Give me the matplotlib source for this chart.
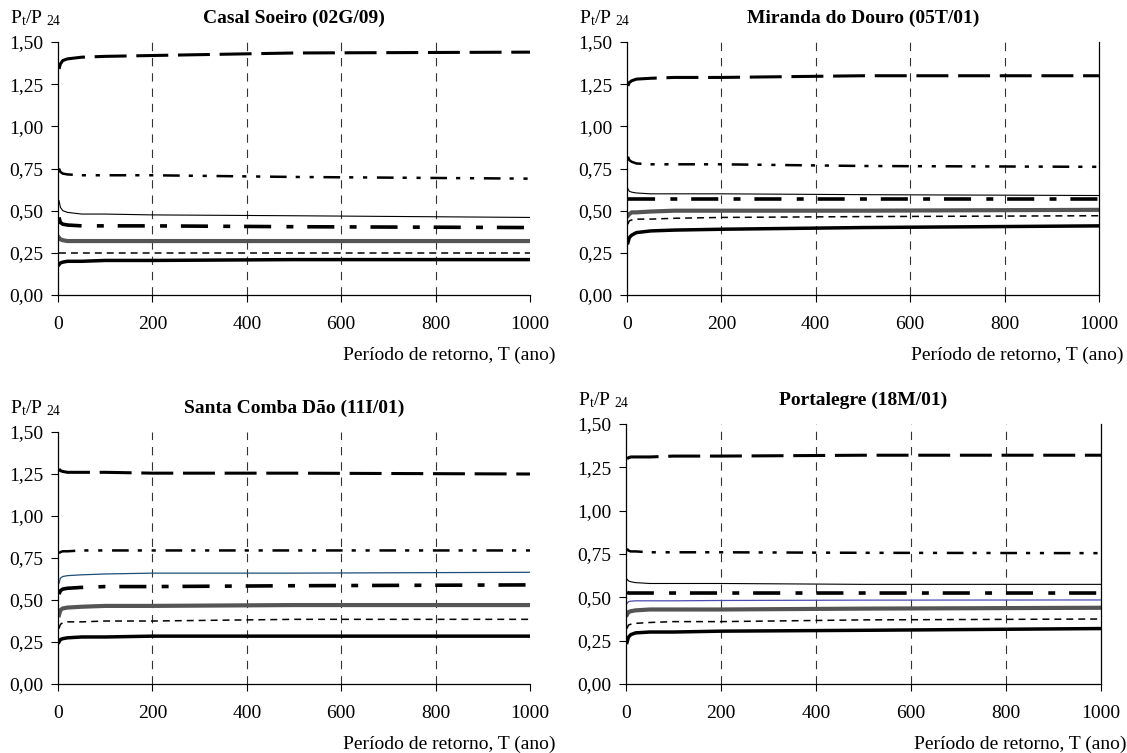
import numpy as np
import matplotlib.pyplot as plt

plt.rcParams['font.family'] = ['Liberation Serif', 'DejaVu Serif']
plt.rcParams['font.size'] = 14
plt.rcParams['lines.scale_dashes'] = False

# return periods (years)
T = [2, 5, 10, 20, 50, 100, 200, 500, 1000]

# Casal Soeiro (02G/09)
cs_longdash = [1.34, 1.37, 1.39, 1.40, 1.41, 1.415, 1.42, 1.435, 1.44]
cs_dashdotdot = [0.75, 0.73, 0.72, 0.715, 0.71, 0.71, 0.71, 0.70, 0.69]
cs_thin = [0.56, 0.52, 0.50, 0.49, 0.48, 0.48, 0.475, 0.47, 0.46]
cs_dashdot = [0.46, 0.43, 0.42, 0.415, 0.41, 0.41, 0.41, 0.405, 0.40]
cs_gray = [0.34, 0.33, 0.325, 0.32, 0.32, 0.32, 0.32, 0.32, 0.32]
cs_dashed = [0.25, 0.25, 0.25, 0.25, 0.25, 0.25, 0.25, 0.25, 0.25]
cs_black = [0.18, 0.19, 0.195, 0.20, 0.20, 0.205, 0.205, 0.21, 0.21]

# Miranda do Douro (05T/01)
md_longdash = [1.24, 1.26, 1.27, 1.28, 1.285, 1.29, 1.29, 1.30, 1.30]
md_dashdotdot = [0.82, 0.80, 0.79, 0.78, 0.775, 0.775, 0.775, 0.765, 0.76]
md_thin = [0.63, 0.615, 0.61, 0.605, 0.60, 0.60, 0.60, 0.595, 0.59]
md_dashdot = [0.57, 0.57, 0.57, 0.57, 0.57, 0.57, 0.57, 0.57, 0.57]
md_gray = [0.47, 0.48, 0.49, 0.49, 0.495, 0.50, 0.50, 0.50, 0.505]
md_dashed = [0.42, 0.44, 0.445, 0.45, 0.45, 0.455, 0.46, 0.465, 0.47]
md_black = [0.31, 0.34, 0.355, 0.37, 0.38, 0.385, 0.39, 0.40, 0.41]

# Santa Comba Dão (11I/01)
sc_longdash = [1.28, 1.27, 1.265, 1.26, 1.26, 1.26, 1.255, 1.255, 1.25]
sc_dashdotdot = [0.78, 0.785, 0.79, 0.79, 0.795, 0.795, 0.795, 0.795, 0.795]
sc_blue = [0.60, 0.63, 0.64, 0.645, 0.65, 0.655, 0.66, 0.66, 0.665]
sc_dashdot = [0.535, 0.555, 0.565, 0.57, 0.575, 0.58, 0.58, 0.585, 0.59]
sc_gray = [0.41, 0.44, 0.45, 0.455, 0.46, 0.465, 0.465, 0.47, 0.47]
sc_dashed = [0.33, 0.355, 0.365, 0.37, 0.37, 0.375, 0.375, 0.385, 0.385]
sc_black = [0.25, 0.265, 0.27, 0.275, 0.28, 0.28, 0.285, 0.285, 0.285]

# Portalegre (18M/01)
pa_longdash = [1.30, 1.305, 1.31, 1.31, 1.31, 1.315, 1.315, 1.32, 1.32]
pa_dashdotdot = [0.78, 0.77, 0.765, 0.765, 0.76, 0.76, 0.76, 0.757, 0.755]
pa_thin = [0.605, 0.595, 0.59, 0.585, 0.58, 0.58, 0.58, 0.575, 0.575]
pa_dashdot = [0.53, 0.525, 0.525, 0.525, 0.525, 0.525, 0.525, 0.525, 0.525]
pa_blue = [0.465, 0.475, 0.478, 0.48, 0.48, 0.48, 0.482, 0.484, 0.485]
pa_gray = [0.40, 0.415, 0.42, 0.425, 0.43, 0.43, 0.43, 0.435, 0.44]
pa_dashed = [0.32, 0.34, 0.345, 0.35, 0.355, 0.36, 0.36, 0.37, 0.375]
pa_black = [0.24, 0.27, 0.285, 0.295, 0.30, 0.30, 0.305, 0.31, 0.32]

titles = ['Casal Soeiro (02G/09)', 'Miranda do Douro (05T/01)',
          'Santa Comba Dão (11I/01)', 'Portalegre (18M/01)']
xticks = [0, 200, 400, 600, 800, 1000]
yticks = [0.0, 0.25, 0.5, 0.75, 1.0, 1.25, 1.5]
yticklabels = ['0,00', '0,25', '0,50', '0,75', '1,00', '1,25', '1,50']

# line styles
st = {
    'longdash': dict(color='black', lw=2.2, dashes=(23, 7)),
    'dashdotdot': dict(color='black', lw=1.8, dashes=(12, 6.5, 3, 7, 3, 7)),
    'thin': dict(color='black', lw=0.8),
    'dashdot': dict(color='black', lw=2.6, dashes=(19.5, 11, 5, 10)),
    'gray': dict(color='#555555', lw=3.0),
    'dashed': dict(color='black', lw=1.1, dashes=(5, 3.6)),
    'black': dict(color='black', lw=2.5),
    'blue1': dict(color='#1f4e79', lw=0.9),
    'blue2': dict(color='#4a4ab0', lw=0.9),
}

panels = [
    [(cs_longdash, 'longdash'), (cs_dashdotdot, 'dashdotdot'), (cs_thin, 'thin'),
     (cs_dashdot, 'dashdot'), (cs_gray, 'gray'), (cs_dashed, 'dashed'), (cs_black, 'black')],
    [(md_longdash, 'longdash'), (md_dashdotdot, 'dashdotdot'), (md_thin, 'thin'),
     (md_dashdot, 'dashdot'), (md_gray, 'gray'), (md_dashed, 'dashed'), (md_black, 'black')],
    [(sc_longdash, 'longdash'), (sc_dashdotdot, 'dashdotdot'), (sc_blue, 'blue1'),
     (sc_dashdot, 'dashdot'), (sc_gray, 'gray'), (sc_dashed, 'dashed'), (sc_black, 'black')],
    [(pa_longdash, 'longdash'), (pa_dashdotdot, 'dashdotdot'), (pa_thin, 'thin'),
     (pa_dashdot, 'dashdot'), (pa_blue, 'blue2'), (pa_gray, 'gray'), (pa_dashed, 'dashed'),
     (pa_black, 'black')],
]

# axes rectangles in figure fraction (left, bottom, width, height)
rects = [
    [0.0515, 0.6082, 0.4188, 0.3360],
    [0.5563, 0.6082, 0.4188, 0.3360],
    [0.0515, 0.0916, 0.4188, 0.3347],
    [0.5555, 0.0916, 0.4215, 0.3453],
]

fig = plt.figure(figsize=(11.27, 7.53), dpi=100)

for i in range(4):
    ax = fig.add_axes(rects[i])
    for vals, key in panels[i]:
        ax.plot(T, vals, **st[key])
    ax.set_xlim(0, 1000)
    ax.set_ylim(0, 1.5)
    ax.set_xticks(xticks)
    ax.set_yticks(yticks)
    ax.set_yticklabels(yticklabels)
    ax.tick_params(direction='out', length=5, width=0.8, labelsize=14, color='black')
    ax.tick_params(axis='y', pad=5.5)
    ax.tick_params(axis='x', pad=10)
    ax.grid(True, axis='x', color='#333333', lw=0.8, linestyle=(0, (6, 5)))
    gl = ax.get_xgridlines()
    gl[0].set_visible(False)
    gl[-1].set_visible(False)
    ax.spines['top'].set_visible(False)
    if i % 2 == 0:
        ax.spines['right'].set_visible(False)
    for s in ax.spines.values():
        s.set_linewidth(0.9)
    ax.annotate(r'$\mathregular{P_t/P_{\ 24}}$', xy=(0, 1), xycoords='axes fraction',
                xytext=(-48, 24), textcoords='offset pixels', ha='left', va='center',
                fontsize=14)
    ax.annotate(titles[i], xy=(0.5, 1), xycoords='axes fraction',
                xytext=(0, 24), textcoords='offset pixels', ha='center', va='center',
                fontsize=14, fontweight='bold')
    ax.annotate('Período de retorno, T (ano)', xy=(1, 0), xycoords='axes fraction',
                xytext=(25, -60), textcoords='offset pixels', ha='right', va='center',
                fontsize=14)

fig.savefig('out.png', dpi=100)
